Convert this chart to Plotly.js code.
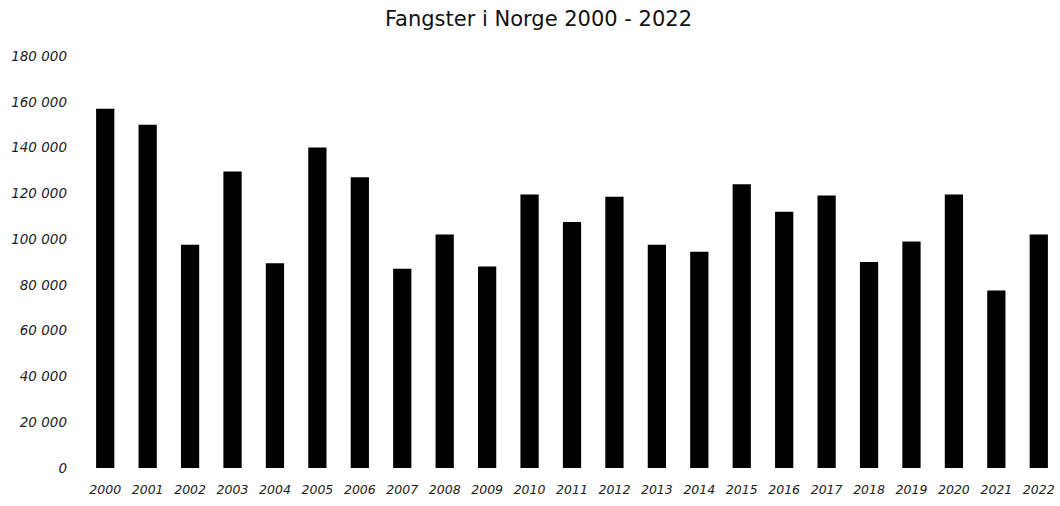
<!DOCTYPE html>
<html>
<head>
<meta charset="utf-8">
<script src="https://cdn.plot.ly/plotly-3.0.1.min.js"></script>
<style>html,body{margin:0;padding:0;background:#fff;}#chart{width:1060px;height:506px;}</style>
</head>
<body>
<div id="chart"></div>
<script>
const years = ["2000","2001","2002","2003","2004","2005","2006","2007","2008","2009","2010","2011","2012","2013","2014","2015","2016","2017","2018","2019","2020","2021","2022"];
const catches = [157000,150000,97500,129500,89500,140000,127000,87000,102000,88000,119500,107500,118500,97500,94500,124000,112000,119000,90000,99000,119500,77500,102000];
const yTickVals = [0,20000,40000,60000,80000,100000,120000,140000,160000,180000];
const yTickText = ["0","20 000","40 000","60 000","80 000","100 000","120 000","140 000","160 000","180 000"];

Plotly.newPlot("chart", [{
  type: "bar",
  x: years,
  y: catches,
  marker: {color: "#000"},
  hoverinfo: "x+y"
}], {
  width: 1060, height: 506,
  margin: {l: 84, r: 0, t: 56, b: 38},
  paper_bgcolor: "#fff", plot_bgcolor: "#fff",
  bargap: 0.57,
  title: {text: "Fangster i Norge 2000 - 2022", x: 0.508, xanchor: "center", y: 0.964, yanchor: "middle",
          font: {family: "DejaVu Sans, sans-serif", size: 21, color: "#111"}},
  xaxis: {type: "category", showgrid: false, zeroline: false, showline: false, ticks: "", ticklabelstandoff: 12,
          tickfont: {family: "DejaVu Sans, sans-serif", size: 12.5, color: "#222", style: "italic"}, tickangle: 0},
  yaxis: {range: [0, 180000], tickvals: yTickVals, ticktext: yTickText, showgrid: false, zeroline: false,
          showline: false, ticks: "", ticklabelstandoff: 16,
          tickfont: {family: "DejaVu Sans, sans-serif", size: 13.5, color: "#222", style: "italic"}},
  showlegend: false
}, {displayModeBar: false, staticPlot: true});
</script>
</body>
</html>
